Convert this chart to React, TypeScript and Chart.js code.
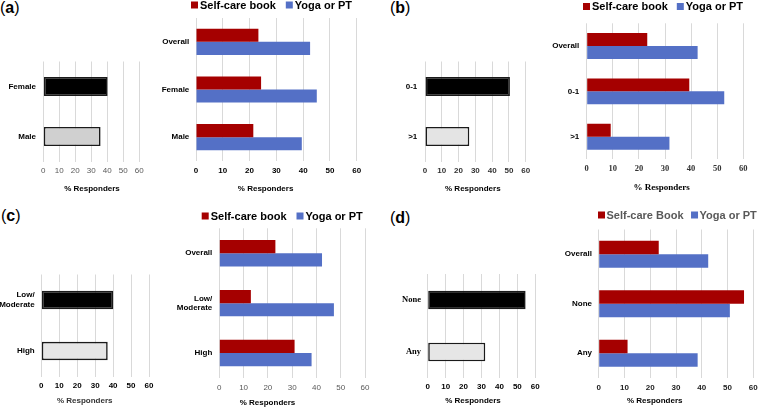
import React, { useEffect, useRef } from "react";
import { Chart, registerables } from "chart.js";

Chart.register(...registerables);

// ---------------- data ----------------
const X_MIN = 0;
const X_MAX = 60;
const X_STEP = 10;
const X_TITLE = "% Responders";
const LEGEND_LABELS_ABC = ["Self-care book", "Yoga or PT"];
const LEGEND_LABELS_D = ["Self-care Book", "Yoga or PT"];

const A_LEFT_CATS = ["Female", "Male"];
const A_LEFT_VALUES = [40.2, 35.8];
const A_RIGHT_CATS = ["Overall", "Female", "Male"];
const A_SELF_CARE = [23.3, 24.3, 21.4];
const A_YOGA = [42.6, 45.1, 39.5];

const B_LEFT_CATS = ["0-1", ">1"];
const B_LEFT_VALUES = [50.6, 26.4];
const B_RIGHT_CATS = ["Overall", "0-1", ">1"];
const B_SELF_CARE = [23.2, 39.3, 9.2];
const B_YOGA = [42.5, 52.7, 31.7];

const C_LEFT_CATS = [["Low/", "Moderate"], "High"];
const C_LEFT_VALUES = [40.1, 37.0];
const C_RIGHT_CATS = ["Overall", ["Low/", "Moderate"], "High"];
const C_SELF_CARE = [23.1, 13.0, 31.0];
const C_YOGA = [42.3, 47.2, 38.0];

const D_LEFT_CATS = ["None", "Any"];
const D_LEFT_VALUES = [54.6, 32.1];
const D_RIGHT_CATS = ["Overall", "None", "Any"];
const D_SELF_CARE = [23.3, 56.4, 11.2];
const D_YOGA = [42.5, 50.9, 38.4];

// ---------------- styles ----------------
const SANS = "'Liberation Sans', Arial, Helvetica, sans-serif";
const SERIF = "'Liberation Serif', 'Times New Roman', serif";
const RED = "#a50000";
const BLUE = "#5470c6";
const GRID = "#d9d9d9";

type F = { size: number; weight: string; family: string; color: string };
const f = (size: number, weight: string, family: string, color: string): F => ({ size, weight, family, color });

const decorPlugin = {
  id: "decor",
  afterDraw(chart: any, _a: any, opts: any) {
    const ctx = chart.ctx;
    ctx.save();
    if (opts && opts.title) {
      const t = opts.title;
      ctx.font = `${t.weight} ${t.size}px ${t.family}`;
      ctx.fillStyle = t.color;
      ctx.textAlign = "center";
      ctx.textBaseline = "middle";
      ctx.fillText(t.text, t.x, t.y);
    }
    if (opts && opts.legend) {
      const l = opts.legend;
      ctx.font = `${l.weight} ${l.size}px ${l.family}`;
      ctx.textAlign = "left";
      ctx.textBaseline = "middle";
      let x = l.x;
      chart.data.datasets.forEach((ds: any) => {
        ctx.fillStyle = ds.backgroundColor;
        ctx.fillRect(x, l.y - l.box / 2, l.box, l.box);
        x += l.box + l.gap;
        ctx.fillStyle = l.color;
        ctx.fillText(ds.label, x, l.y + 0.5);
        x += ctx.measureText(ds.label).width + l.itemGap;
      });
    }
    ctx.restore();
  },
};

type Spec = {
  canvas: [number, number, number, number];
  plot: [number, number, number, number];
  labelRight: number;
  tickY: number;
  title: [number, number];
  xFont: F;
  yFont: F;
  titleFont: F;
  legend?: { x: number; y: number; size: number; color: string; gap: number; itemGap: number };
  datasets: any[];
  cats: any[];
};

function single(cats: any[], values: number[], lightFill: string, pct: number) {
  return {
    cats,
    datasets: [
      {
        label: "",
        data: values,
        backgroundColor: ["#000000", lightFill],
        borderColor: "#1a1a1a",
        borderWidth: 1.6,
        borderSkipped: false,
        categoryPercentage: pct,
        barPercentage: 1,
      },
    ],
  };
}

function grouped(cats: any[], labels: string[], self: number[], yoga: number[], pct: number) {
  return {
    cats,
    datasets: [
      { label: labels[0], data: self, backgroundColor: RED, categoryPercentage: pct, barPercentage: 1 },
      { label: labels[1], data: yoga, backgroundColor: BLUE, categoryPercentage: pct, barPercentage: 1 },
    ],
  };
}

const SPECS: Spec[] = [
  {
    canvas: [0, 40, 151, 196], plot: [43.3, 61.5, 139.3, 161.5], labelRight: 36, tickY: 171, title: [92, 189],
    xFont: f(8, "normal", SANS, "#595959"), yFont: f(8, "bold", SANS, "#000"), titleFont: f(8, "bold", SANS, "#000"),
    ...single(A_LEFT_CATS, A_LEFT_VALUES, "#d0d0d0", 0.38),
  },
  {
    canvas: [150, 0, 369, 196], plot: [196, 18, 356.7, 161], labelRight: 189.3, tickY: 170.7, title: [265.6, 188.7],
    xFont: f(8, "bold", SANS, "#000"), yFont: f(8, "bold", SANS, "#000"), titleFont: f(8, "bold", SANS, "#000"),
    legend: { x: 191, y: 5, size: 11, color: "#000", gap: 2, itemGap: 10 },
    ...grouped(A_RIGHT_CATS, LEGEND_LABELS_ABC, A_SELF_CARE, A_YOGA, 0.55),
  },
  {
    canvas: [381, 40, 538, 196], plot: [425, 61.5, 525.7, 161.5], labelRight: 417.3, tickY: 171, title: [472.8, 189],
    xFont: f(8, "bold", SANS, "#333"), yFont: f(8, "bold", SANS, "#000"), titleFont: f(8, "bold", SANS, "#000"),
    ...single(B_LEFT_CATS, B_LEFT_VALUES, "#e4e4e4", 0.38),
  },
  {
    canvas: [540, 0, 756, 196], plot: [586.7, 23.3, 743.3, 159.4], labelRight: 579.3, tickY: 169, title: [661.7, 188],
    xFont: f(8.5, "bold", SERIF, "#333"), yFont: f(8, "bold", SANS, "#000"), titleFont: f(9, "bold", SERIF, "#000"),
    legend: { x: 583, y: 6.5, size: 11, color: "#000", gap: 2, itemGap: 9 },
    ...grouped(B_RIGHT_CATS, LEGEND_LABELS_ABC, B_SELF_CARE, B_YOGA, 0.57),
  },
  {
    canvas: [0, 250, 161, 407], plot: [41.3, 274.5, 149, 376.5], labelRight: 34.7, tickY: 385.3, title: [84.7, 400.7],
    xFont: f(8, "bold", SANS, "#000"), yFont: f(8, "bold", SANS, "#000"), titleFont: f(8, "bold", SANS, "#333"),
    ...single(C_LEFT_CATS, C_LEFT_VALUES, "#e6e6e6", 0.36),
  },
  {
    canvas: [160, 205, 377, 407], plot: [219.3, 228.3, 365, 378], labelRight: 212.3, tickY: 387.7, title: [267.5, 402.7],
    xFont: f(8, "normal", SANS, "#595959"), yFont: f(8, "bold", SANS, "#000"), titleFont: f(8, "bold", SANS, "#000"),
    legend: { x: 201.7, y: 216, size: 11, color: "#000", gap: 2, itemGap: 10 },
    ...grouped(C_RIGHT_CATS, LEGEND_LABELS_ABC, C_SELF_CARE, C_YOGA, 0.53),
  },
  {
    canvas: [383, 250, 548, 407], plot: [427.7, 274, 535.3, 378], labelRight: 421, tickY: 387, title: [473, 401],
    xFont: f(8, "bold", SANS, "#000"), yFont: f(8.5, "bold", SERIF, "#000"), titleFont: f(8, "bold", SANS, "#000"),
    ...single(D_LEFT_CATS, D_LEFT_VALUES, "#e6e6e6", 0.36),
  },
  {
    canvas: [545, 205, 766, 407], plot: [598.7, 229.5, 753.3, 378], labelRight: 592, tickY: 387.3, title: [654.7, 401],
    xFont: f(8, "bold", SANS, "#222"), yFont: f(8, "bold", SANS, "#000"), titleFont: f(8, "bold", SANS, "#000"),
    legend: { x: 598, y: 215, size: 11, color: "#595959", gap: 1.5, itemGap: 7.5 },
    ...grouped(D_RIGHT_CATS, LEGEND_LABELS_D, D_SELF_CARE, D_YOGA, 0.545),
  },
];

function buildConfig(s: Spec): any {
  const [cl, ct, cr, cb] = s.canvas;
  const [pl, pt, pr, pb] = s.plot;
  const xLH = s.xFont.size * 1.2;
  return {
    type: "bar",
    data: { labels: s.cats, datasets: s.datasets },
    plugins: [decorPlugin],
    options: {
      indexAxis: "y",
      animation: false,
      responsive: false,
      maintainAspectRatio: false,
      events: [],
      layout: { padding: { left: 0, top: pt - ct, right: cr - pr, bottom: 0 } },
      plugins: {
        legend: { display: false },
        tooltip: { enabled: false },
        decor: {
          title: { text: X_TITLE, x: s.title[0] - cl, y: s.title[1] - ct, ...s.titleFont },
          legend: s.legend
            ? {
                x: s.legend.x - cl,
                y: s.legend.y - ct,
                size: s.legend.size,
                color: s.legend.color,
                weight: "bold",
                family: SANS,
                box: 7,
                gap: s.legend.gap,
                itemGap: s.legend.itemGap,
              }
            : null,
        },
      },
      scales: {
        x: {
          type: "linear",
          min: X_MIN,
          max: X_MAX,
          ticks: {
            stepSize: X_STEP,
            padding: s.tickY - pb - xLH / 2,
            color: s.xFont.color,
            font: { size: s.xFont.size, weight: s.xFont.weight, family: s.xFont.family },
          },
          grid: { color: GRID, lineWidth: 1, drawTicks: false },
          border: { display: false },
          afterFit: (scale: any) => {
            scale.height = cb - pb;
          },
        },
        y: {
          type: "category",
          ticks: {
            autoSkip: false,
            padding: pl - s.labelRight,
            color: s.yFont.color,
            font: { size: s.yFont.size, weight: s.yFont.weight, family: s.yFont.family },
          },
          grid: { display: false, drawTicks: false },
          border: { display: false },
          afterFit: (scale: any) => {
            scale.width = pl - cl;
          },
        },
      },
    },
  };
}

function ChartCanvas({ spec }: { spec: Spec }) {
  const ref = useRef<HTMLCanvasElement>(null);
  useEffect(() => {
    const chart = new Chart(ref.current as HTMLCanvasElement, buildConfig(spec));
    return () => chart.destroy();
  }, [spec]);
  const [cl, ct, cr, cb] = spec.canvas;
  const w = cr - cl;
  const h = cb - ct;
  return (
    <canvas
      ref={ref}
      width={w}
      height={h}
      style={{ position: "absolute", left: cl, top: ct, width: w, height: h }}
    />
  );
}

const PANEL_LETTERS: { t: string; x: number; y: number }[] = [
  { t: "a", x: 0, y: 0 },
  { t: "b", x: 390, y: 0 },
  { t: "c", x: 1, y: 208 },
  { t: "d", x: 390, y: 210 },
];

export default function App() {
  return (
    <div
      style={{
        position: "absolute",
        left: 0,
        top: 0,
        width: 759,
        height: 407,
        overflow: "hidden",
        background: "#ffffff",
        fontFamily: SANS,
      }}
    >
      {PANEL_LETTERS.map((p) => (
        <div
          key={p.t}
          style={{ position: "absolute", left: p.x, top: p.y, fontSize: 16, lineHeight: "16px", color: "#000" }}
        >
          (<b>{p.t}</b>)
        </div>
      ))}
      {SPECS.map((s, i) => (
        <ChartCanvas key={i} spec={s} />
      ))}
    </div>
  );
}
